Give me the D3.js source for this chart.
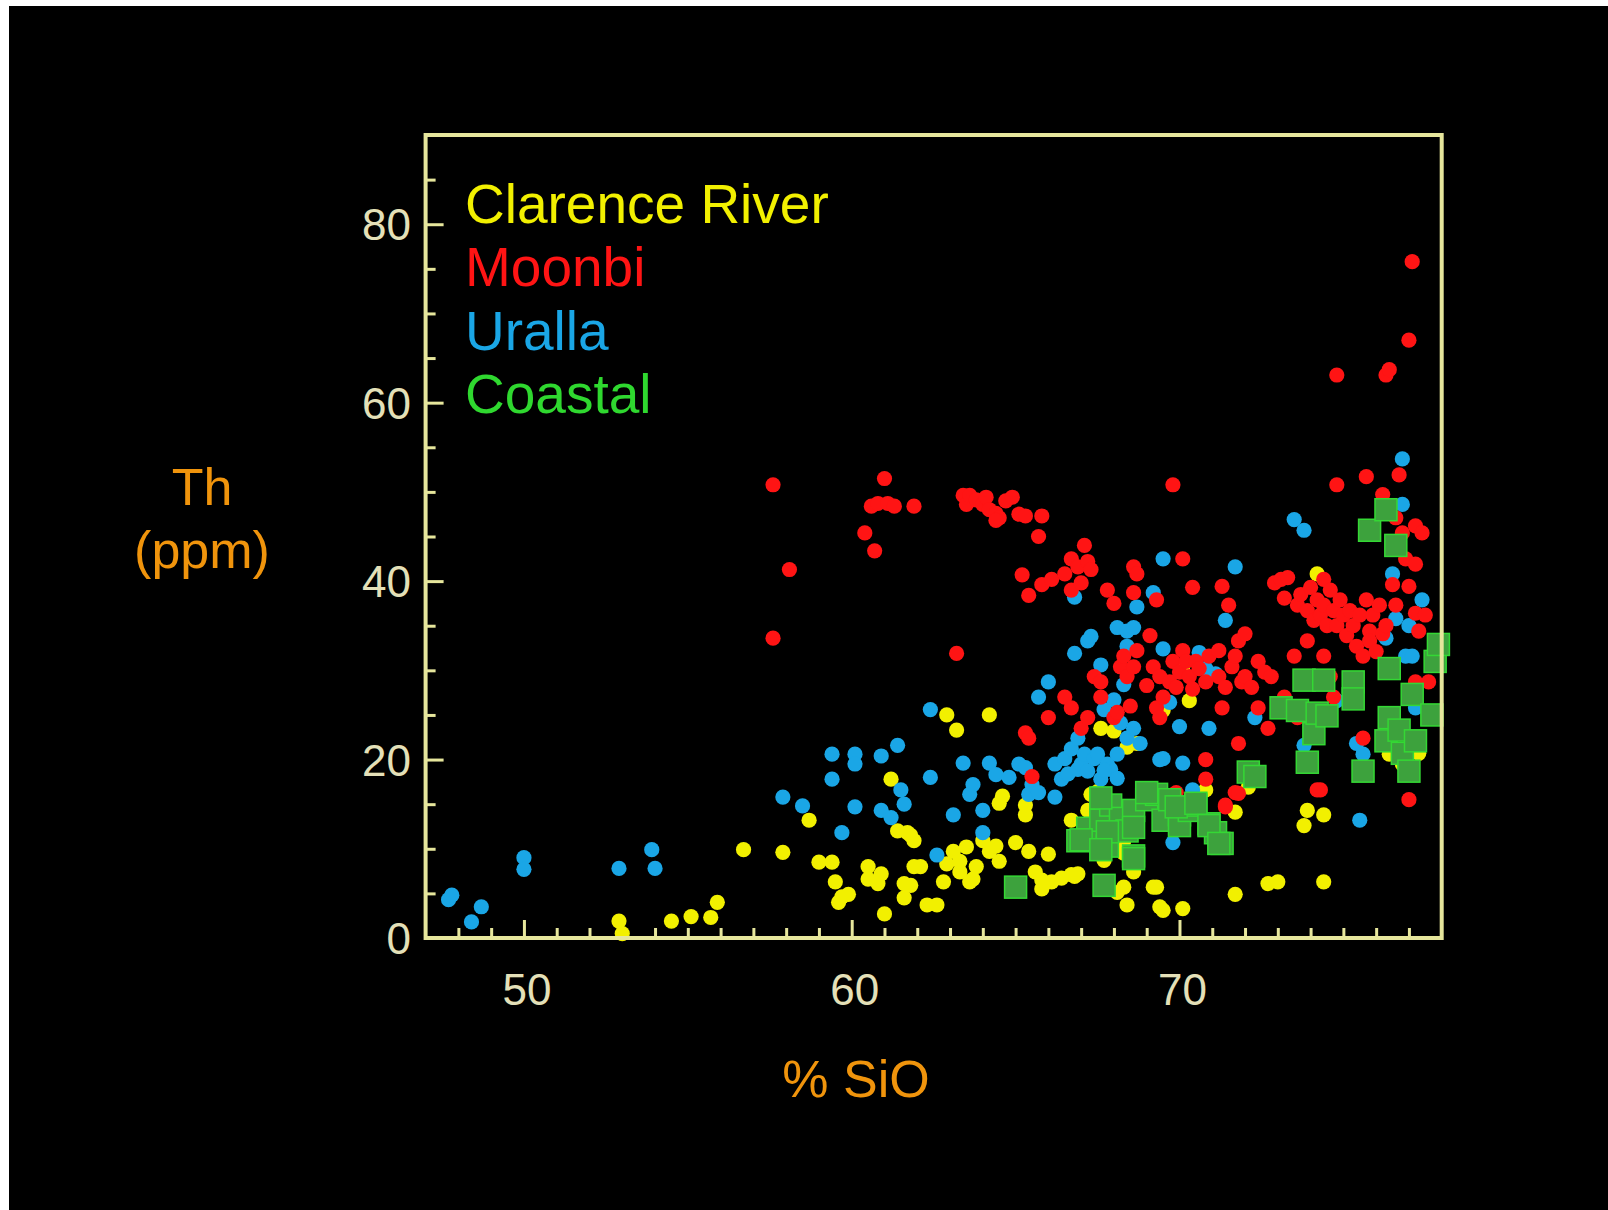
<!DOCTYPE html>
<html>
<head>
<meta charset="utf-8">
<script src="https://cdn.jsdelivr.net/npm/d3@7"></script>
<style>
  html, body { margin: 0; padding: 0; background: #fff; }
  svg { display: block; }
  text { font-family: "Liberation Sans", Arial, Helvetica, sans-serif; }
</style>
</head>
<body>
<svg id="chart" width="1608" height="1210"></svg>
<script>
// Th (ppm) against % SiO for four granite suites
const seriesNames = ["Clarence River", "Moonbi", "Uralla", "Coastal"];
const xTickValues = [50, 60, 70];
const yTickValues = [0, 20, 40, 60, 80];

const clarenceRiver = [
  [52.9,1.9],[53.0,0.5],[54.5,1.9],[55.1,2.4],[55.7,2.3],[55.9,4.0],[56.7,9.9],[57.9,9.6],[58.7,13.2],
  [59.0,8.5],[59.4,8.5],[59.5,6.3],[59.7,4.6],[59.6,4.0],[59.9,4.9],[60.5,8.0],[60.5,6.6],[60.8,6.1],
  [60.9,7.2],[61.0,2.7],[61.2,17.8],[61.4,12.0],[61.7,11.8],[61.8,11.5],[61.9,8.0],[61.6,6.1],[61.6,4.5],
  [61.8,5.9],[61.9,10.9],[62.1,8.0],[62.3,3.7],[62.6,3.7],[62.8,6.3],[62.9,8.3],[62.9,25.0],[63.2,23.3],
  [63.1,9.7],[63.3,8.6],[63.3,7.4],[63.5,10.2],[63.6,6.3],[63.8,8.0],[63.7,6.6],[64.0,10.9],[64.2,25.0],
  [64.2,9.7],[64.5,8.6],[64.5,15.1],[64.4,10.3],[65.0,10.7],[65.3,13.8],[65.4,9.7],[65.6,7.4],[65.8,6.5],
  [65.8,5.5],[66.0,9.4],[66.1,6.3],[66.4,6.7],[66.7,13.2],[66.8,6.9],[66.9,7.2],[67.2,14.3],[67.3,16.1],
  [67.6,23.5],[68.0,23.2],[68.3,10.9],[68.3,9.5],[68.1,5.1],[68.4,3.7],[68.4,21.4],[68.7,21.8],[69.2,5.7],
  [69.4,3.5],[69.5,3.1],[70.1,3.3],[69.5,25.5],[70.3,26.6],[70.1,30.4],[70.8,16.6],[71.7,4.9],[71.7,14.1],
  [72.1,16.9],[72.7,6.1],[73.0,6.3],[73.8,12.6],[73.9,14.3],[74.2,40.8],[74.4,6.3],[74.4,13.8],[76.4,20.6],
  [76.8,19.5],[77.3,20.7],[67.5,16.4],[66.7,7.1],[68.3,5.7],[69.3,5.7],[68.2,10.2],[67.7,8.7],[68.6,7.4],
  [64.6,15.9],[65.3,14.9]
];

const moonbi = [
  [57.6,50.8],[57.6,33.6],[58.1,41.3],[61.0,51.5],[60.6,48.4],[60.4,45.4],[60.7,43.4],[60.8,48.7],[61.1,48.7],
  [61.3,48.4],[61.9,48.4],[63.2,31.9],[63.4,49.6],[63.5,48.6],[63.6,49.6],[63.8,49.1],[64.0,48.6],[64.1,49.4],
  [64.2,48.0],[64.4,47.6],[64.5,47.1],[64.7,49.0],[64.9,49.4],[64.4,46.8],[65.1,47.5],[65.3,47.3],[65.8,47.3],
  [65.7,45.0],[65.2,40.7],[65.4,38.4],[65.8,39.6],[66.1,40.2],[66.5,40.8],[66.7,42.5],[66.9,41.6],[67.1,44.0],
  [67.2,42.2],[66.7,39.0],[67.0,39.8],[67.3,41.3],[67.8,39.0],[68.0,37.5],[68.6,41.6],[68.7,40.8],[68.6,38.7],
  [69.3,37.9],[69.8,50.8],[70.1,42.5],[70.4,39.3],[71.3,39.4],[71.5,37.3],[65.3,23.0],[65.4,22.4],[65.5,18.1],
  [66.0,24.7],[66.5,27.0],[66.7,25.8],[67.0,23.5],[67.2,24.7],[67.4,29.3],[67.6,27.0],[67.6,28.7],[68.0,24.7],
  [68.1,25.3],[68.2,30.4],[68.3,31.6],[68.4,29.3],[68.5,26.0],[68.6,30.4],[68.7,32.2],[69.0,28.3],[69.1,33.9],
  [69.2,30.4],[69.3,25.8],[69.4,24.7],[69.4,29.3],[69.5,27.0],[69.7,28.7],[69.8,31.0],[69.9,28.1],[70.0,29.8],
  [70.1,32.2],[70.2,31.0],[70.3,29.3],[70.4,27.9],[70.5,31.0],[70.6,30.2],[70.8,28.7],[70.9,31.6],[71.2,32.2],
  [71.2,29.3],[71.3,25.8],[71.4,28.1],[71.6,30.4],[71.7,31.6],[71.8,33.3],[71.9,28.7],[72.0,34.1],[72.0,29.3],
  [72.2,28.1],[72.4,25.8],[72.4,31.0],[72.6,29.8],[72.7,23.5],[72.8,29.3],[71.8,21.8],[71.7,16.3],[71.4,14.9],
  [70.8,17.8],[70.5,14.3],[72.9,39.8],[73.1,40.2],[73.3,40.4],[73.2,38.1],[73.6,37.3],[73.7,38.5],[73.9,36.7],
  [74.0,39.3],[74.1,35.6],[74.2,37.9],[74.3,36.2],[74.4,40.2],[74.4,37.3],[74.5,35.0],[74.6,39.0],[74.7,36.7],
  [74.8,63.1],[74.8,50.8],[74.8,35.0],[74.9,37.9],[75.0,36.2],[75.1,33.9],[75.2,36.7],[75.3,35.0],[75.4,32.7],
  [75.5,36.2],[75.6,31.6],[75.7,51.7],[75.7,37.9],[75.8,34.4],[75.8,33.3],[75.9,36.2],[76.0,32.1],[76.1,37.3],
  [76.2,34.1],[76.2,49.7],[76.3,63.1],[76.4,63.7],[76.3,35.0],[76.5,39.6],[76.6,37.3],[76.6,47.1],[76.7,51.9],
  [76.8,45.4],[76.9,42.5],[77.0,67.0],[77.0,39.4],[77.1,75.8],[77.2,41.9],[77.2,46.2],[77.2,36.4],[77.3,34.4],
  [77.2,28.7],[77.0,15.5],[75.6,22.4],[75.5,18.9],[74.3,16.6],[74.7,27.0],[73.5,31.6],[73.6,24.7],[73.2,27.0],
  [73.7,29.3],[73.9,33.3],[74.4,31.6],[74.6,29.3],[77.6,28.7],[77.5,36.2],[77.4,45.4],[70.8,20.0],[69.9,16.3],
  [71.8,16.2],[71.4,14.7],[74.2,16.6]
];

const uralla = [
  [47.7,4.3],[47.8,4.8],[48.4,1.8],[48.7,3.5],[50.0,9.0],[50.0,7.7],[52.9,7.8],[53.9,9.9],[54.0,7.8],
  [57.9,15.8],[58.5,14.8],[59.4,20.6],[59.4,17.8],[59.7,11.8],[60.1,20.6],[60.1,19.5],[60.1,14.7],[60.9,20.4],
  [60.9,14.3],[61.2,13.5],[61.4,21.6],[61.5,16.6],[61.6,15.0],[62.4,25.6],[62.4,18.0],[62.6,9.3],[63.1,13.8],
  [63.4,19.6],[63.6,16.1],[63.7,17.2],[64.0,14.3],[64.2,19.6],[64.0,11.8],[64.4,18.3],[64.8,18.0],[65.1,19.5],
  [65.3,19.1],[65.4,16.1],[65.5,17.2],[65.7,16.3],[65.7,27.0],[66.0,28.7],[66.2,15.8],[66.2,19.5],[66.4,17.8],
  [66.5,20.1],[66.6,18.4],[66.7,21.2],[66.8,38.2],[66.8,31.9],[66.9,22.4],[66.9,18.9],[67.0,19.5],[67.1,20.6],
  [67.2,33.3],[67.2,18.7],[67.3,33.8],[67.4,20.1],[67.5,20.6],[67.6,30.6],[67.6,17.8],[67.7,25.6],[67.8,19.5],
  [67.9,18.9],[68.0,26.7],[68.1,20.6],[68.1,34.8],[68.2,24.1],[68.3,28.4],[68.4,22.4],[68.4,34.4],[68.4,32.7],
  [68.6,34.8],[68.6,23.5],[68.7,37.1],[68.8,21.8],[69.2,38.7],[69.5,42.5],[69.5,32.4],[69.5,20.1],[69.7,26.4],
  [69.8,10.7],[70.0,23.7],[70.4,16.6],[70.6,32.0],[70.8,30.2],[70.9,23.5],[71.1,29.6],[71.4,35.6],[71.7,41.6],
  [72.3,24.7],[73.5,46.9],[73.8,45.7],[73.8,21.6],[74.8,26.6],[75.4,21.8],[75.5,13.2],[75.6,20.6],[76.3,33.6],
  [76.5,40.8],[76.6,35.8],[76.8,53.7],[76.8,48.6],[76.9,31.6],[77.1,31.6],[77.2,25.8],[77.4,37.9],[77.0,35.0],
  [68.1,17.9],[69.4,12.9],[70.1,19.6],[69.4,20.0],[67.7,18.8]
];

const coastal = [
  [65.0,5.7],[67.7,5.9],[66.9,10.9],[67.2,12.3],[67.6,13.2],[67.8,10.3],[67.9,14.9],[68.2,13.4],[68.4,12.0],
  [68.6,14.3],[68.6,9.2],[69.0,15.5],[69.3,16.1],[69.5,13.2],[69.7,15.5],[70.0,13.8],[70.0,12.6],[70.3,14.3],
  [70.5,14.9],[70.9,12.8],[71.1,11.8],[71.3,10.6],[72.1,18.6],[72.3,18.1],[73.1,25.8],[73.6,25.5],[73.8,28.9],
  [73.9,19.7],[74.1,22.9],[74.2,25.2],[74.4,28.9],[74.5,24.9],[75.3,28.7],[75.3,26.8],[75.6,18.7],[75.8,45.7],
  [76.3,48.0],[76.4,30.2],[76.4,24.7],[76.3,22.1],[76.6,44.0],[76.7,23.3],[76.8,20.7],[77.0,18.7],[77.1,27.3],
  [77.2,22.1],[77.7,25.0],[77.8,31.0],[77.9,32.9],[67.6,15.7],[69.0,16.3],[69.9,14.7],[70.5,15.1],[68.6,12.4],
  [67.8,11.9],[67.0,11.0],[67.6,9.9],[68.6,8.9],[70.9,12.6],[71.2,10.6]
];

const palette = {
  "Clarence River": "#f2f000",
  "Moonbi": "#ff1414",
  "Uralla": "#1aa6e6",
  "Coastal": "#2fd82f"
};

const W = 1608, H = 1210;
const svg = d3.select("#chart");

// page background: thin white margin on the top and left, black slide area
svg.append("rect").attr("width", W).attr("height", H).attr("fill", "#ffffff");
svg.append("rect").attr("x", 9).attr("y", 6).attr("width", W - 9).attr("height", H - 6).attr("fill", "#000000");

const plot = { left: 425.6, right: 1441.7, top: 135, bottom: 938 };
const x = d3.scaleLinear().domain([47, 78]).range([plot.left, plot.right]);
const y = d3.scaleLinear().domain([0, 90]).range([plot.bottom, plot.top]);

const frameColor = "#e6e69c";
const tickTextColor = "#e4e0b8";
const titleColor = "#f0940c";

// minor ticks: every 1 % on x, every 5 ppm on y, pointing into the plot
const xMinor = d3.range(48, 78, 1).filter(v => !xTickValues.includes(v));
const yMinor = d3.range(5, 90, 5).filter(v => !yTickValues.includes(v));

const xAxisMinor = d3.axisTop(x).tickValues(xMinor).tickSize(10).tickFormat("");
const xAxisMajor = d3.axisTop(x).tickValues(xTickValues).tickSize(18).tickFormat("");
const yAxisMinor = d3.axisRight(y).tickValues(yMinor).tickSize(10).tickFormat("");
const yAxisMajor = d3.axisRight(y).tickValues(yTickValues.filter(v => v > 0)).tickSize(18).tickFormat("");

function styleAxis(g) {
  g.select(".domain").remove();
  g.selectAll(".tick line").attr("stroke", frameColor).attr("stroke-width", 3);
}

svg.append("g").attr("transform", `translate(0,${plot.bottom})`).call(xAxisMinor).call(styleAxis);
svg.append("g").attr("transform", `translate(0,${plot.bottom})`).call(xAxisMajor).call(styleAxis);
svg.append("g").attr("transform", `translate(${plot.left},0)`).call(yAxisMinor).call(styleAxis);
svg.append("g").attr("transform", `translate(${plot.left},0)`).call(yAxisMajor).call(styleAxis);

// tick labels
svg.append("g").selectAll("text").data(xTickValues).join("text")
  .attr("x", d => x(d) + 3).attr("y", 1005)
  .attr("text-anchor", "middle")
  .attr("font-size", 44).attr("fill", tickTextColor)
  .text(d => d);

svg.append("g").selectAll("text").data(yTickValues).join("text")
  .attr("x", 411).attr("y", d => y(d) + 16)
  .attr("text-anchor", "end")
  .attr("font-size", 44).attr("fill", tickTextColor)
  .text(d => d);

// markers
const dot = 7.6, sq = 22;
const circleSeries = [
  ["Clarence River", clarenceRiver],
  ["Uralla", uralla],
  ["Moonbi", moonbi]
];
circleSeries.forEach(([name, pts]) => {
  svg.append("g").selectAll("circle").data(pts).join("circle")
    .attr("cx", d => x(d[0])).attr("cy", d => y(d[1]))
    .attr("r", dot).attr("fill", palette[name]);
});

svg.append("g").selectAll("rect").data(coastal).join("rect")
  .attr("x", d => x(d[0]) - sq / 2).attr("y", d => y(d[1]) - sq / 2)
  .attr("width", sq).attr("height", sq)
  .attr("fill", "#3da23d").attr("stroke", "#34d834").attr("stroke-width", 1.5);

// plot frame
svg.append("rect")
  .attr("x", plot.left).attr("y", plot.top)
  .attr("width", plot.right - plot.left).attr("height", plot.bottom - plot.top)
  .attr("fill", "none").attr("stroke", frameColor).attr("stroke-width", 4);

// legend
svg.append("g").selectAll("text").data(seriesNames).join("text")
  .attr("x", 465).attr("y", (d, i) => 223 + i * 63.3)
  .attr("font-size", 55).attr("fill", d => palette[d])
  .text(d => d);

// axis titles
const yTitle = svg.append("text").attr("text-anchor", "middle")
  .attr("font-size", 52).attr("fill", titleColor);
yTitle.append("tspan").attr("x", 202).attr("y", 505).text("Th");
yTitle.append("tspan").attr("x", 202).attr("y", 568).text("(ppm)");

svg.append("text")
  .attr("x", 856).attr("y", 1097)
  .attr("text-anchor", "middle")
  .attr("font-size", 52).attr("fill", titleColor)
  .text("% SiO");
</script>
</body>
</html>
